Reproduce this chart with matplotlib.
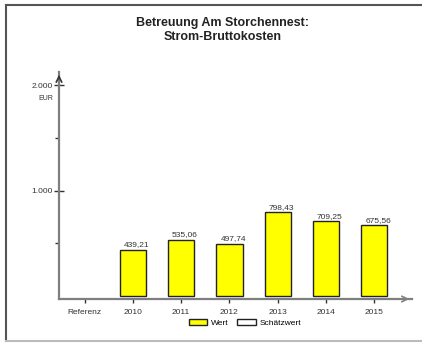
# -*- coding: utf-8 -*-
from matplotlib import pyplot as plt
from matplotlib.lines import Line2D
from matplotlib.patches import Patch

plt.rcParams['font.family'] = ['Liberation Sans', 'DejaVu Sans']

categories = ["Referenz", "2010", "2011", "2012", "2013", "2014", "2015"]
values = [None, 439.21, 535.06, 497.74, 798.43, 709.25, 675.56]
labels = ["", "439,21", "535,06", "497,74", "798,43", "709,25", "675,56"]

fig = plt.figure(figsize=(4.22, 3.43), dpi=100)
ax = fig.add_axes([59/422, 44/343, 353/422, 227/343])

axis_grey = "#7f7f7f"

# balken
for i, v in enumerate(values):
    if v is None:
        continue
    ax.bar(i, v, width=0.54, color="#ffff00", edgecolor="#222222", linewidth=1.0, zorder=2)
    ax.text(i + 0.08, v + 12, labels[i], ha="center", va="bottom", fontsize=6, color="#333333")

ax.set_xlim(-0.53, 6.78)
ax.set_ylim(-28, 2127)

for s in ["top", "right"]:
    ax.spines[s].set_visible(False)
ax.spines["left"].set_color(axis_grey)
ax.spines["bottom"].set_color(axis_grey)
ax.spines["left"].set_linewidth(1.6)
ax.spines["bottom"].set_linewidth(1.6)
ax.spines["bottom"].set_position(("data", -28))

ax.set_xticks(range(len(categories)))
ax.set_xticklabels(categories, fontsize=6, color="#333333")
ax.tick_params(axis="x", direction="out", length=3, width=1, color="#333333", pad=4)

ax.set_yticks([1000, 2000])
ax.set_yticklabels(["1.000", "2.000"], fontsize=6, color="#333333")
ax.set_yticks([500, 1500], minor=True)
ax.tick_params(axis="y", which="major", direction="inout", length=7, width=1, color="#333333", pad=1)
ax.tick_params(axis="y", which="minor", direction="out", length=3, width=1, color="#333333")
ax.text(-0.8, 1880, "EUR", fontsize=5, ha="center", va="center", color="#333333")

# pfeile an den achsen
ax.annotate("", xy=(1.0, 0), xytext=(0.97, 0), xycoords="axes fraction",
            arrowprops=dict(arrowstyle="->", color=axis_grey, lw=1.2), annotation_clip=False)
ax.annotate("", xy=(0, 1.0), xytext=(0, 0.96), xycoords="axes fraction",
            arrowprops=dict(arrowstyle="->", color="#333333", lw=1.2), annotation_clip=False)

fig.text(223/422, 1 - 30/343, "Betreuung Am Storchennest:\nStrom-Bruttokosten",
         ha="center", va="center", fontsize=9, fontweight="bold", color="#222222", linespacing=1.25)

handles = [Patch(facecolor="#ffff00", edgecolor="#222222", label="Wert"),
           Patch(facecolor="white", edgecolor="#222222", label="Schätzwert")]
fig.legend(handles=handles, loc="center", bbox_to_anchor=(245/422, 1 - 323/343), ncol=2,
           frameon=False, fontsize=6, handlelength=2.2, handleheight=0.6, columnspacing=1.0,
           handletextpad=0.5)

# rahmen
fig.add_artist(Line2D([6/422, 6/422], [1 - 341/343, 1 - 5/343], color="#555555", lw=1.5))
fig.add_artist(Line2D([6/422, 1], [1 - 5/343, 1 - 5/343], color="#555555", lw=1.5))
fig.add_artist(Line2D([6/422, 1], [1 - 341/343, 1 - 341/343], color="#bbbbbb", lw=1.5))

fig.savefig("out.png", dpi=100)
